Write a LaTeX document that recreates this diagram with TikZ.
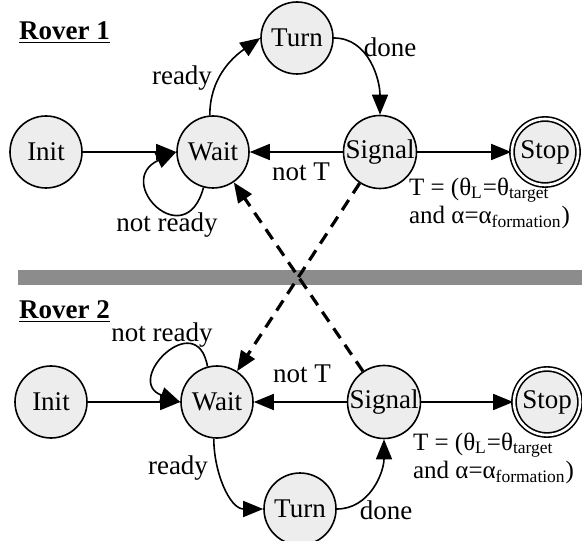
\documentclass[tikz,border=0pt]{standalone}
\usepackage{fontspec}
\setmainfont{Liberation Serif}
\usepackage{tikz}
\usetikzlibrary{arrows.meta}

\begin{document}
\begin{tikzpicture}[x=0.5pt,y=0.5pt,
  state/.style={circle,draw,line width=0.8pt,fill=black!7,minimum size=36pt,inner sep=0pt,font=\fontsize{13.5}{16}\selectfont},
  final/.style={state,double,double distance=1.3pt,minimum size=33pt},
  trans/.style={-{Triangle[length=10pt,width=8pt]},line width=0.8pt},
  signal/.style={trans,line width=1.6pt,dash pattern=on 6pt off 4pt},
  lbl/.style={font=\fontsize{13.5}{14}\selectfont},
  cond/.style={font=\fontsize{12.5}{14}\selectfont,align=left,anchor=west}]
\useasboundingbox (0,0) rectangle (582,540);

% separator
\fill[black!45] (18,255) rectangle (582,270);

% Rover 1
\node[lbl,anchor=west] (title1) at (12,507) {\underline{\textbf{Rover 1}}};
\node[state] (init1) at (46,388) {Init};
\node[state] (wait1) at (213,388) {Wait};
\node[state] (turn1) at (297,502) {Turn};
\node[state] (signal1) at (380,388) {Signal};
\node[final] (stop1) at (545,388) {Stop};

\draw[trans] (init1) -- (wait1);
\draw[trans] (wait1.255) to[out=255,in=205,looseness=4] (wait1.west);
\draw[trans] (wait1.95) to[out=90,in=215] (turn1.west);
\draw[trans] (turn1.east) to[out=0,in=90] (signal1.north);
\draw[trans] (signal1) -- (wait1);
\draw[trans] (signal1) -- (stop1);

\node[lbl] (ready1) at (182,462) {ready};
\node[lbl] (done1) at (390,493) {done};
\node[lbl] (notready1) at (167,315) {not ready};
\node[lbl] (nott1) at (301,368) {not T};
\node[cond] (cond1) at (402,337)
  {T = (θ\textsubscript{L}=θ\textsubscript{target}\\and α=α\textsubscript{formation})};

% Rover 2
\node[lbl,anchor=west] (title2) at (12,228) {\underline{\textbf{Rover 2}}};
\node[state] (init2) at (51,138) {Init};
\node[state] (wait2) at (217,138) {Wait};
\node[state] (turn2) at (300,31) {Turn};
\node[state] (signal2) at (384,138) {Signal};
\node[final] (stop2) at (547,138) {Stop};

\draw[trans] (init2) -- (wait2);
\draw[trans] (wait2.105) to[out=100,in=160,looseness=3.5] (wait2.west);
\draw[trans] (wait2.265) to[out=270,in=180] (turn2.west);
\draw[trans] (turn2.east) to[out=0,in=270] (signal2.south);
\draw[trans] (signal2) -- (wait2);
\draw[trans] (signal2) -- (stop2);

\node[lbl] (notready2) at (162,205) {not ready};
\node[lbl] (ready2) at (178,72) {ready};
\node[lbl] (nott2) at (302,166) {not T};
\node[lbl] (done2) at (386,30) {done};
\node[cond] (cond2) at (406,82)
  {T = (θ\textsubscript{L}=θ\textsubscript{target}\\and α=α\textsubscript{formation})};

% signals between the rovers
\draw[signal] (signal1) -- (wait2);
\draw[signal] (signal2) -- (wait1);
\end{tikzpicture}
\end{document}
